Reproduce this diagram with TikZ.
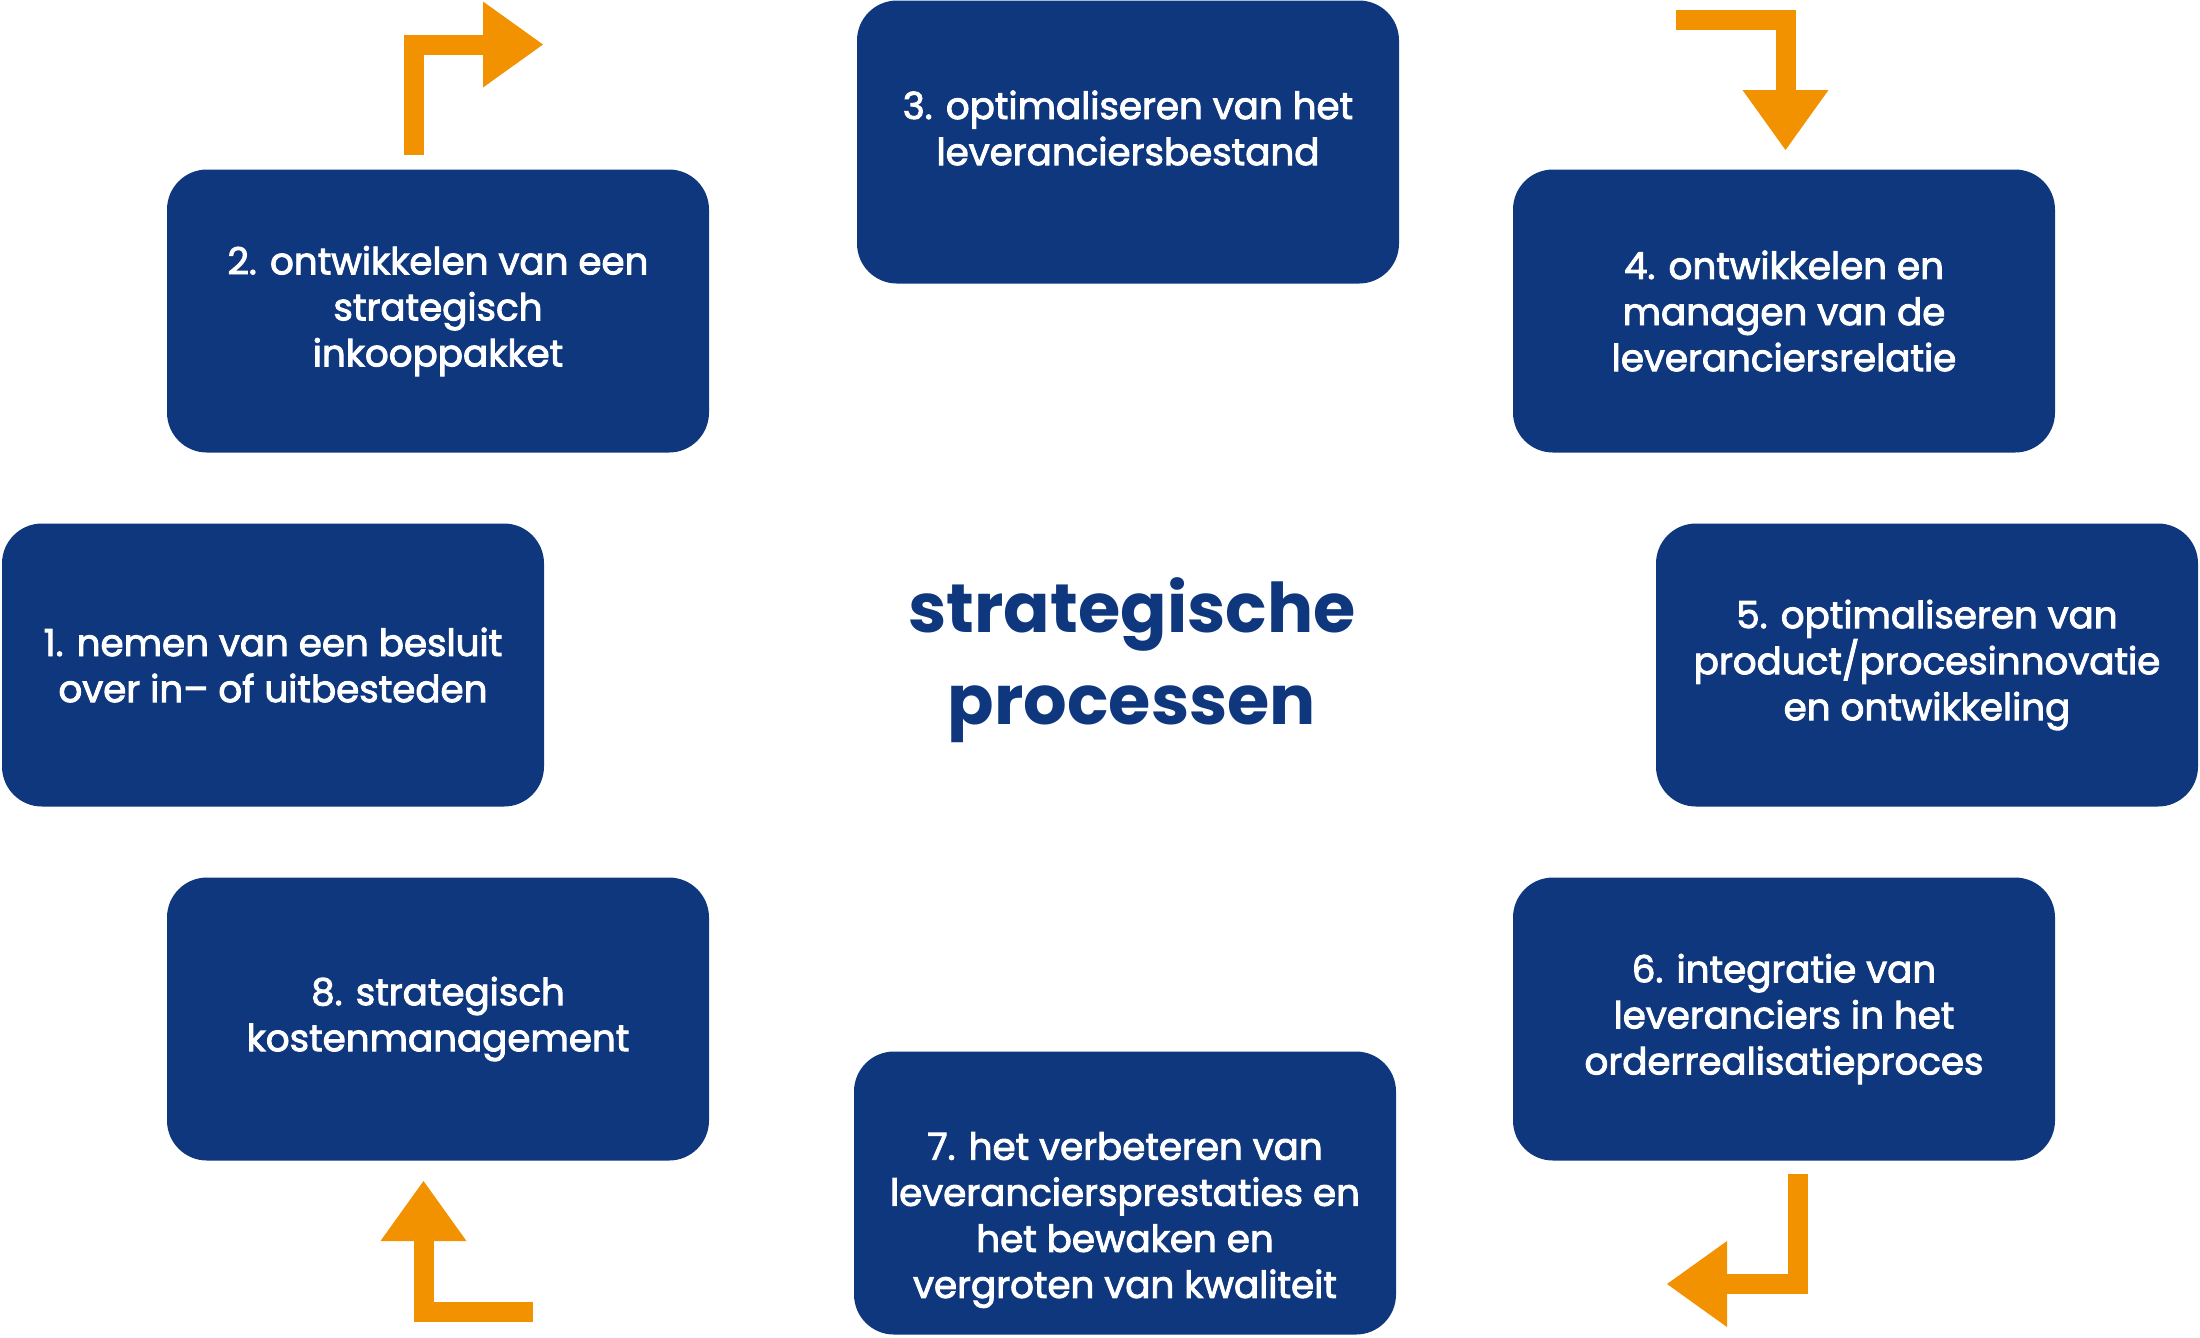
\documentclass[tikz,border=0pt]{standalone}
\usepackage{fontspec}
\setmainfont{Poppins}
\newfontfamily\procfont{Poppins}[FakeBold=2.5]
\usetikzlibrary{positioning, arrows.meta}
\definecolor{procblue}{HTML}{0F377D}
\definecolor{turnorange}{HTML}{F39200}
\tikzstyle{arrow} = [line width=2mm, draw=turnorange, -{Triangle[width=8.6mm,length=6mm,line width=0pt]}]

\begin{document}
\begin{tikzpicture}[x=0.1mm, y=-0.1mm]
                    \tikzstyle{every node}=[font=\procfont\fontsize{10.6}{13.1}\selectfont] \tikzstyle{proc} =
                    [rectangle, rounded corners=4mm, fill=procblue, text=white, align=center,
                    minimum width=54.2mm, minimum height=28.3mm, inner sep=0pt] \tikzstyle{hidden} =
                    [draw=none, text=white, align=center]

                    \useasboundingbox (0,0) rectangle (2200,1337);

                    \node[proc](p1) at (273,665) {1. nemen van een besluit\\over in– of uitbesteden};
                    \node[proc](p2) at (438,311) {2. ontwikkelen van een\\strategisch\\inkooppakket};
                    \node[proc](p3) at (1128,142) {};
                    \node[hidden](t3) at (1128,128) {3. optimaliseren van het\\leveranciersbestand};
                    \node[proc](p4) at (1784,311) {4. ontwikkelen en\\managen van de\\leveranciersrelatie};
                    \node[proc](p5) at (1927,665) {5. optimaliseren van\\product/procesinnovatie\\en ontwikkeling};
                    \node[proc](p6) at (1784,1019) {6. integratie van\\leveranciers in het\\orderrealisatieproces};
                    \node[proc](p7) at (1125,1193) {};
                    \node[hidden](t7) at (1125,1220) {7. het verbeteren van\\leveranciersprestaties en\\het bewaken en\\vergroten van kwaliteit};
                    \node[proc](p8) at (438,1019) {8. strategisch\\kostenmanagement};

                    \node[hidden, text=procblue, font=\fontsize{19.5}{26}\selectfont\bfseries](title) at (1132,660) {strategische\\processen};

                    \coordinate (a1s) at (413.5,155); \coordinate (a1e) at (543,44.5);
                    \coordinate (a2s) at (1676,19.5); \coordinate (a2e) at (1785.5,150);
                    \coordinate (a3s) at (1798,1174); \coordinate (a3e) at (1667,1284);
                    \coordinate (a4s) at (533,1311.5); \coordinate (a4e) at (423.5,1181);

                    \draw[arrow] (a1s) |- (a1e);
                    \draw[arrow] (a2s) -| (a2e);
                    \draw[arrow] (a3s) |- (a3e);
                    \draw[arrow] (a4s) -| (a4e);
        
            \end{tikzpicture}
\end{document}
